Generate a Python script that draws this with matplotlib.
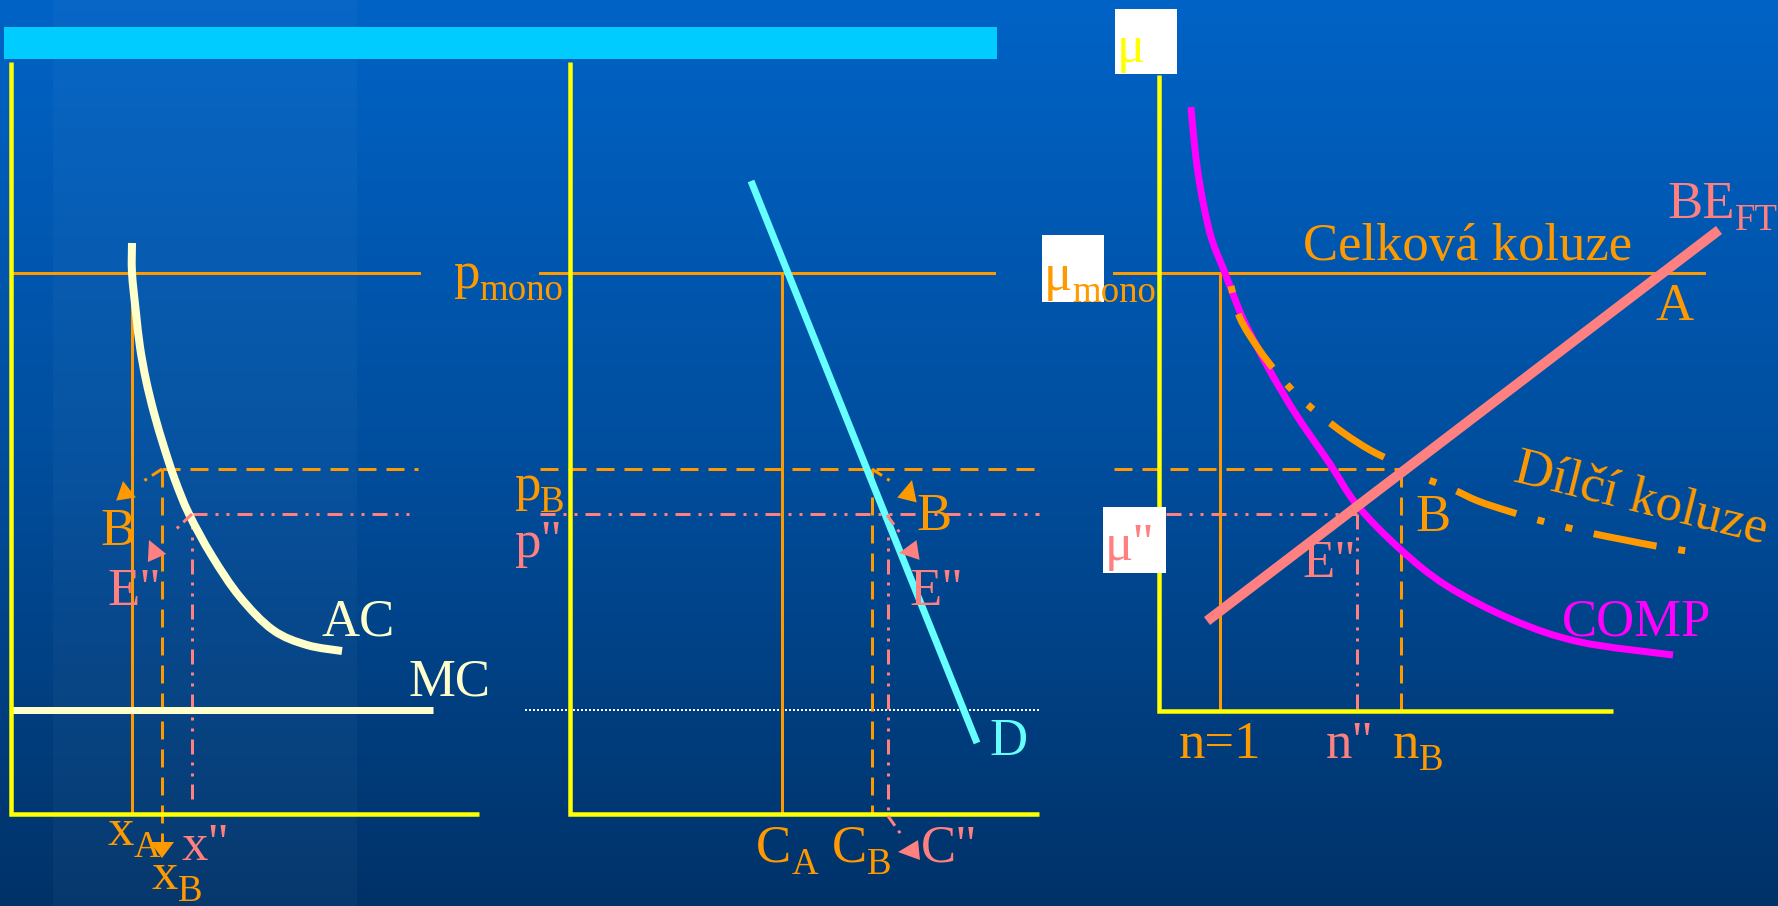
import matplotlib
matplotlib.use("Agg")
import matplotlib.pyplot as plt
import numpy as np
from matplotlib.patches import Rectangle, Polygon, PathPatch
from matplotlib.path import Path

W, H = 1778, 906

plt.rcParams.update({
    "font.family": ["Liberation Serif", "DejaVu Serif"],
    "lines.scale_dashes": False,
})

YELLOW = "#FFFF00"
ORANGE = "#FF9900"
PINK = "#FF8080"
CREAM = "#FFFFCC"
CYAN = "#66FFFF"
MAGENTA = "#FF00FF"
BAR = "#00CCFF"

# --- levels (canvas pixels, y grows downward) -------------------------------
P_MONO = 273      # monopoly price / mu_mono
P_B = 469         # partial-collusion price
P_2 = 514         # p''
MC_LEVEL = 710

# quantities / firm counts
X_A, X_B, X_2 = 132, 162, 192
C_A, C_B, C_2 = 782, 872, 888
N_1, N_2, N_B = 1220, 1357, 1401

# axes of the three panels: (y-axis x, top, x-axis y, right end)
PANELS = [(11, 62, 814, 479), (570, 62, 814, 1039), (1159, 75, 711, 1613)]

# horizontal guides per panel: (x from, x to)
MONO_SPANS = [(11, 419), (540, 994), (1114, 1704)]
PB_SPANS = [(X_B, 418), (540, 1039), (1114, N_B)]
P2_SPANS = [(X_2, 416), (540, 1039), (1166, N_2)]

# curves
AC_X = [132, 132, 136, 140, 146, 154, 164, 175, 189, 212, 240, 273, 307, 342]
AC_Y = [243, 273, 313, 347, 380, 413, 447, 480, 514, 556, 597, 630, 645, 651]
MC_X = [11, 433]
D_X = [751, 977]
D_Y = [181, 743]
COMP_X = [1191, 1194, 1198, 1204, 1212, 1225, 1238, 1247, 1270, 1297, 1330, 1357,
          1400, 1447, 1513, 1580, 1673]
COMP_Y = [107, 140, 173, 207, 240, 273, 307, 327, 371, 416, 464, 505,
          549, 586, 620, 642, 655]
BE_X = [1207, 1719]
BE_Y = [621, 230]
PART_X = [1231, 1240, 1258, 1277, 1297, 1320, 1345, 1370, 1398, 1422, 1452, 1478, 1508,
          1538, 1565, 1595, 1625, 1656, 1687]
PART_Y = [286, 318, 348, 373, 395, 415, 434, 450, 464, 477, 489, 501, 511,
          520, 527, 534, 540, 546, 551]

# callouts: (start, end of stem, head tip, head base centre, colour)
CALLOUTS = [
    ((X_B, P_B), (136, 486), (123, 481), (126, 499), ORANGE),
    ((X_2, P_2), (170, 535), (149, 540), (157, 558), PINK),
    ((C_B, P_B), (898, 486), (912, 480), (907, 500), ORANGE),
    ((C_2 - 1, P_2 + 1), (905, 540), (899, 553), (918, 550), PINK),
    ((C_2, 816), (905, 840), (898, 852), (919, 850), PINK),
]

# labels: (text, subscript, x, baseline, colour)
LABELS = [
    ("B", "", 100, 545, ORANGE),
    ('E"', "", 107, 605, PINK),
    ("AC", "", 322, 635, CREAM),
    ("MC", "", 408, 695, CREAM),
    ("x", "A", 107, 845, ORANGE),
    ('x"', "", 182, 860, PINK),
    ("x", "B", 152, 889, ORANGE),
    ("p", "mono", 453, 288, ORANGE),
    ("p", "B", 514, 500, ORANGE),
    ('p"', "", 514, 557, PINK),
    ("B", "", 916, 530, ORANGE),
    ('E"', "", 909, 605, PINK),
    ("D", "", 989, 755, CYAN),
    ("C", "A", 756, 862, ORANGE),
    ("C", "B", 832, 862, ORANGE),
    ('C"', "", 921, 862, PINK),
    ("Celková koluze", "", 1303, 260, ORANGE),
    ("BE", "FT", 1667, 218, PINK),
    ("A", "", 1656, 320, ORANGE),
    ("B", "", 1415, 531, ORANGE),
    ('E"', "", 1302, 577, PINK),
    ("COMP", "", 1562, 636, MAGENTA),
    ("n=1", "", 1179, 758, ORANGE),
    ('n"', "", 1326, 758, PINK),
    ("n", "B", 1393, 758, ORANGE),
]

# white boxes behind the mu labels: (x, y, w, h, text, subscript, colour, baseline)
MU_BOXES = [
    (1115, 9, 62, 65, "μ", "", YELLOW, 62),
    (1042, 235, 62, 67, "μ", "mono", ORANGE, 290),
    (1103, 507, 63, 66, 'μ"', "", PINK, 560),
]

PX = 0.72  # points per canvas pixel at 100 dpi
DASHED = (0, (18 * PX, 10 * PX))
DASH_DOT2 = (0, (15 * PX, 8 * PX, 3 * PX, 8 * PX, 3 * PX, 8 * PX))
PART_STYLE = (115 * PX, (64 * PX, 22 * PX, 7 * PX, 22 * PX, 7 * PX, 22 * PX))
FS = 38
SUB_FS = FS * 0.7
SUB_DROP = 12

fig = plt.figure(figsize=(W / 100, H / 100), dpi=100)
ax = fig.add_axes([0, 0, 1, 1])
ax.set_xlim(0, W)
ax.set_ylim(H, 0)
ax.axis("off")
renderer = fig.canvas.get_renderer()

# background: vertical blue gradient
stops_y = np.array([0, 450, H])
stops_c = np.array([[0, 99, 198], [0, 78, 158], [0, 50, 104]]) / 255
rows = np.arange(H)
grad = np.stack([np.interp(rows, stops_y, stops_c[:, k]) for k in range(3)], axis=1)
ax.imshow(grad[:, None, :], extent=[0, W, H, 0], aspect="auto", zorder=0)
ax.add_patch(Rectangle((53, 0), 304, H, facecolor="white", alpha=0.03, lw=0, zorder=0.5))
ax.add_patch(Rectangle((4, 27), 993, 32, facecolor=BAR, lw=0, zorder=1))

lw_axis = 4.5 * PX
lw_thin = 3 * PX


def smooth_path(xs, ys):
    """Catmull-Rom style cubic Bezier path through the given points."""
    pts = np.column_stack([xs, ys]).astype(float)
    ext = np.vstack([pts[0], pts, pts[-1]])
    verts = [pts[0]]
    codes = [Path.MOVETO]
    for i in range(1, len(ext) - 2):
        p0, p1, p2, p3 = ext[i - 1], ext[i], ext[i + 1], ext[i + 2]
        verts += [p1 + (p2 - p0) / 6, p2 - (p3 - p1) / 6, p2]
        codes += [Path.CURVE4] * 3
    return Path(verts, codes)


def curve(xs, ys, color, lw, ls="solid", z=4):
    patch = PathPatch(smooth_path(xs, ys), fill=False, edgecolor=color, lw=lw,
                      linestyle=ls, capstyle="butt", zorder=z)
    ax.add_patch(patch)


# panel axes
for x0, top, bottom, right in PANELS:
    ax.plot([x0, x0, right], [top, bottom, bottom], color=YELLOW, lw=lw_axis,
            solid_joinstyle="miter", solid_capstyle="butt", zorder=6)

# horizontal guides
for a, b in MONO_SPANS:
    ax.plot([a, b], [P_MONO, P_MONO], color=ORANGE, lw=lw_thin, zorder=3)
for a, b in PB_SPANS:
    ax.plot([a, b], [P_B, P_B], color=ORANGE, lw=lw_thin, ls=DASHED, zorder=3)
for a, b in P2_SPANS:
    ax.plot([a, b], [P_2, P_2], color=PINK, lw=lw_thin, ls=DASH_DOT2, zorder=3)
ax.plot([525, 1039], [MC_LEVEL, MC_LEVEL], color="white", lw=2 * PX,
        ls=(0, (2 * PX, 2 * PX)), zorder=3)

# vertical guides
ax.plot([X_A, X_A], [P_MONO, 814], color=ORANGE, lw=lw_thin, zorder=3)
ax.plot([X_B, X_B], [P_B, 843], color=ORANGE, lw=lw_thin, ls=DASHED, zorder=3)
ax.plot([X_2, X_2], [P_2, 807], color=PINK, lw=lw_thin, ls=DASH_DOT2, zorder=3)
ax.plot([C_A, C_A], [P_MONO, 814], color=ORANGE, lw=lw_thin, zorder=3)
ax.plot([C_B, C_B], [P_B, 814], color=ORANGE, lw=lw_thin, ls=DASHED, zorder=3)
ax.plot([C_2, C_2], [P_2, 812], color=PINK, lw=lw_thin, ls=DASH_DOT2, zorder=3)
ax.plot([N_1, N_1], [P_MONO, 711], color=ORANGE, lw=lw_thin, zorder=3)
ax.plot([N_2, N_2], [P_2, 711], color=PINK, lw=lw_thin, ls=DASH_DOT2, zorder=3)
ax.plot([N_B, N_B], [P_B, 711], color=ORANGE, lw=lw_thin, ls=DASHED, zorder=3)

# curves
curve(AC_X, AC_Y, CREAM, 8 * PX)
ax.plot(MC_X, [MC_LEVEL, MC_LEVEL], color=CREAM, lw=7 * PX, solid_capstyle="butt", zorder=4)
ax.plot(D_X, D_Y, color=CYAN, lw=7 * PX, solid_capstyle="butt", zorder=4)
curve(COMP_X, COMP_Y, MAGENTA, 7 * PX)
curve(PART_X, PART_Y, ORANGE, 7 * PX, ls=PART_STYLE, z=4.5)
ax.plot(BE_X, BE_Y, color=PINK, lw=10 * PX, solid_capstyle="butt", zorder=5)


def head(tip, base, color, half=10):
    tip = np.asarray(tip, float)
    base = np.asarray(base, float)
    d = tip - base
    n = np.array([-d[1], d[0]])
    n = n / np.linalg.norm(n) * half
    ax.add_patch(Polygon([tip, base + n, base - n], closed=True,
                         facecolor=color, lw=0, zorder=7))


for start, end, tip, base, color in CALLOUTS:
    ax.plot([start[0], end[0]], [start[1], end[1]], color=color, lw=lw_thin,
            ls=(0, (12 * PX, 6 * PX, 3 * PX, 20 * PX)), zorder=7)
    head(tip, base, color)
head((X_B, 858), (X_B, 842), ORANGE, half=12)


def label(text, sub, x, base, color):
    t = ax.text(x, base, text, color=color, fontsize=FS, ha="left",
                va="baseline", zorder=8)
    if sub:
        bb = t.get_window_extent(renderer)
        x1 = ax.transData.inverted().transform((bb.x1, bb.y0))[0]
        ax.text(x1, base + SUB_DROP, sub, color=color, fontsize=SUB_FS,
                ha="left", va="baseline", zorder=8)


# mu labels on white boxes
for x, y, w, h, text, sub, color, base in MU_BOXES:
    ax.add_patch(Rectangle((x, y), w, h, facecolor="white", lw=0, zorder=7))
    label(text, sub, x + 2, base, color)

for text, sub, x, y, color in LABELS:
    label(text, sub, x, y, color)

ax.text(1641, 499, "Dílčí koluze", color=ORANGE, fontsize=FS, rotation=-14,
        rotation_mode="anchor", ha="center", va="center", zorder=8)

fig.savefig("out.png", dpi=100)
